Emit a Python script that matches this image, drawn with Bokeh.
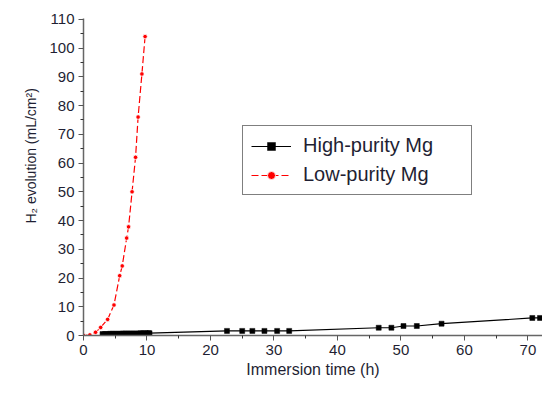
from bokeh.plotting import figure
from bokeh.models import Range1d, Legend, LegendItem, FixedTicker, Title
from bokeh.embed import file_html
from bokeh.resources import INLINE

# High-purity Mg (black squares)
high_x = [3.0, 3.4, 3.8, 4.2, 4.6, 5.0, 5.4, 5.8, 6.2, 6.6, 7.0, 7.4, 7.8, 8.2, 8.6, 9.0, 9.4, 9.8, 10.2, 10.4,
          22.6, 25.0, 26.6, 28.5, 30.5, 32.4, 46.5, 48.5, 50.4, 52.5, 56.4, 70.7, 71.9]
high_y = [0.5, 0.5, 0.5, 0.6, 0.6, 0.6, 0.6, 0.6, 0.7, 0.7, 0.7, 0.7, 0.7, 0.7, 0.7, 0.8, 0.8, 0.8, 0.8, 0.8,
          1.6, 1.6, 1.6, 1.6, 1.6, 1.6, 2.7, 2.7, 3.3, 3.3, 4.1, 6.1, 6.1]

# Low-purity Mg (red dots)
low_x = [0.0, 1.0, 1.9, 2.7, 3.8, 4.8, 5.7, 6.1, 6.8, 7.1, 7.65, 8.2, 8.6, 9.2, 9.7]
low_y = [0.0, 0.2, 1.1, 2.8, 5.6, 10.6, 20.8, 24.2, 33.9, 37.8, 50.0, 62.0, 76.0, 91.0, 104.0]

x_ticks = [0, 10, 20, 30, 40, 50, 60, 70]
x_minor = [5, 15, 25, 35, 45, 55, 65]
y_ticks = [0, 10, 20, 30, 40, 50, 60, 70, 80, 90, 100, 110]
y_minor = [5, 15, 25, 35, 45, 55, 65, 75, 85, 95, 105]

FONT = "Liberation Sans"
TXT = "#1f1f33"

p = figure(width=542, height=384, output_backend="svg", toolbar_location=None,
           x_range=Range1d(0, 72.3), y_range=Range1d(0, 110.3),
           min_border_left=83, min_border_right=0, min_border_top=18, min_border_bottom=49)
p.outline_line_color = None
p.grid.visible = False

for ax in (p.xaxis[0], p.yaxis[0]):
    ax.axis_line_color = "#666666"
    ax.axis_line_width = 1.5
    ax.major_tick_line_color = "#555555"
    ax.minor_tick_line_color = "#333333"
    ax.major_tick_out = 5
    ax.major_tick_in = 0
    ax.minor_tick_out = 3
    ax.minor_tick_in = 0
    ax.major_label_text_font = FONT
    ax.major_label_text_font_size = "15px"
    ax.major_label_text_color = TXT
    ax.major_label_standoff = 4

p.xaxis[0].ticker = FixedTicker(ticks=x_ticks, minor_ticks=x_minor)
p.yaxis[0].ticker = FixedTicker(ticks=y_ticks, minor_ticks=y_minor)

p.xaxis.axis_label = "Immersion time (h)"
p.xaxis.axis_label_text_font = FONT
p.xaxis.axis_label_text_font_size = "16px"
p.xaxis.axis_label_text_font_style = "normal"
p.xaxis.axis_label_text_color = TXT
p.xaxis.axis_label_standoff = 3

ytitle = Title(text="H\u2082 evolution (mL/cm\u00b2)", align="left", offset=112,
               text_font=FONT, text_font_size="14px", text_font_style="normal",
               text_color=TXT, standoff=15)
p.add_layout(ytitle, "left")

hl = p.line(high_x, high_y, line_color="black", line_width=1.2)
hs = p.scatter(high_x, high_y, marker="square", size=5, fill_color="black", line_color="black", line_width=0.5)

ll = p.line(low_x, low_y, line_color="red", line_width=1.2, line_dash="7 3")
ls = p.scatter(low_x, low_y, marker="circle", size=4.5, fill_color="red", line_color="white", line_width=0.8)

legend = Legend(items=[LegendItem(label="High-purity Mg", renderers=[hl, hs]),
                       LegendItem(label="Low-purity Mg", renderers=[ll, ls])],
                location=(159, 140))
legend.label_text_font = FONT
legend.label_text_font_size = "20px"
legend.label_text_color = TXT
legend.glyph_width = 40
legend.label_standoff = 12
legend.label_width = 160
legend.padding = 8
legend.spacing = 6
legend.margin = 0
legend.border_line_color = "black"
legend.border_line_width = 1.5
legend.background_fill_alpha = 1
p.add_layout(legend)

open("out.html", "w").write(file_html(p, INLINE))
